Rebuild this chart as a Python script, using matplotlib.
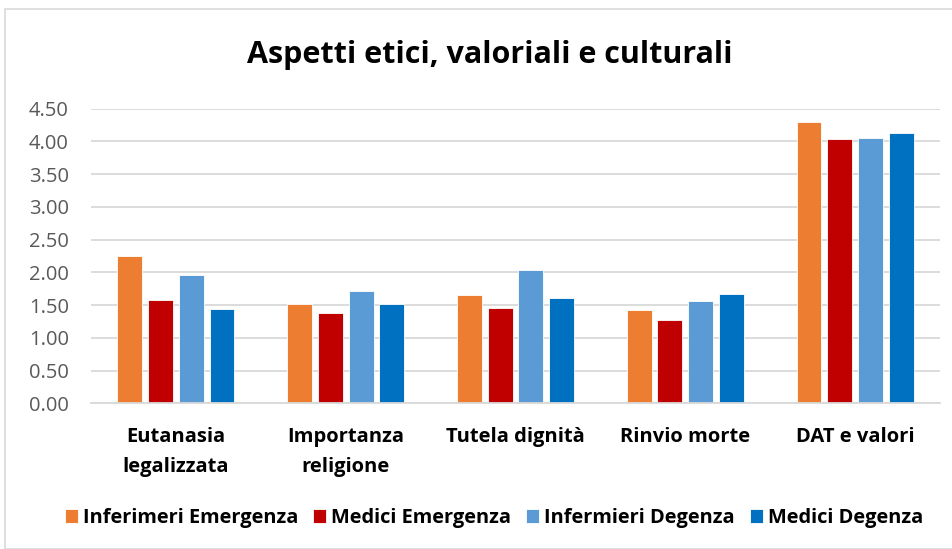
import matplotlib
matplotlib.use("Agg")
import matplotlib.pyplot as plt
import numpy as np
from matplotlib.patches import Rectangle

categories = ["Eutanasia\nlegalizzata", "Importanza\nreligione", "Tutela dignità", "Rinvio morte", "DAT e valori"]
series_names = ["Inferimeri Emergenza", "Medici Emergenza", "Infermieri Degenza", "Medici Degenza"]
inf_emergenza = [2.25, 1.51, 1.65, 1.42, 4.29]
med_emergenza = [1.58, 1.38, 1.45, 1.27, 4.04]
inf_degenza = [1.96, 1.71, 2.04, 1.57, 4.06]
med_degenza = [1.44, 1.51, 1.61, 1.67, 4.13]
yticks = [0.0, 0.5, 1.0, 1.5, 2.0, 2.5, 3.0, 3.5, 4.0, 4.5]

colors = ["#ED7D31", "#C00000", "#5B9BD5", "#0070C0"]
FONT = ["Open Sans", "DejaVu Sans"]
plt.rcParams['font.family'] = FONT

W, H = 953, 549
fig = plt.figure(figsize=(W/100, H/100), dpi=100)
fig.patches.append(Rectangle((5/W, 0), 1.0, 1 - 9/H, transform=fig.transFigure,
                             fill=False, edgecolor="#D9D9D9", linewidth=1.2))

ax = fig.add_axes([91/W, 1 - 403.3/H, (940-91)/W, (403.3-108.7)/H])
x = np.arange(len(categories))
pitch = 0.181
width = 0.147
all_series = [inf_emergenza, med_emergenza, inf_degenza, med_degenza]
for i, (vals, name, c) in enumerate(zip(all_series, series_names, colors)):
    ax.bar(x + (i - 1.5) * pitch, vals, width=width, color=c, label=name,
           edgecolor="white", linewidth=0.6, zorder=3)

ax.set_xlim(-0.5, len(categories) - 0.5)
ax.set_ylim(0, 4.5)
ax.set_yticks(yticks)
ax.set_yticklabels([f"{v:.2f}" for v in yticks], fontsize=14.5, color="#595959")
ax.set_xticks(x)
ax.set_xticklabels(categories, fontsize=14.5, fontweight="bold", color="black", linespacing=1.65)
ax.tick_params(axis="y", length=0, pad=16)
ax.tick_params(axis="x", length=0, pad=17)
ax.grid(axis="y", color="#D9D9D9", linewidth=1.3, zorder=0)
for s in ["top", "right", "left"]:
    ax.spines[s].set_visible(False)
ax.spines["bottom"].set_color("#D9D9D9")
ax.spines["bottom"].set_linewidth(1.3)
ax.spines["bottom"].set_zorder(4)

fig.text(490/W, 1 - 55/H, "Aspetti etici, valoriali e culturali", ha="center", va="center",
         fontsize=22, fontweight="bold", color="black")

leg = fig.legend(loc="center", bbox_to_anchor=(494/W, 1 - 518/H), ncol=4, frameon=False,
                 prop={"size": 14.4, "weight": "bold"}, handlelength=0.65, handleheight=0.65,
                 handletextpad=0.25, columnspacing=0.75)

fig.savefig("out.png", dpi=100)
